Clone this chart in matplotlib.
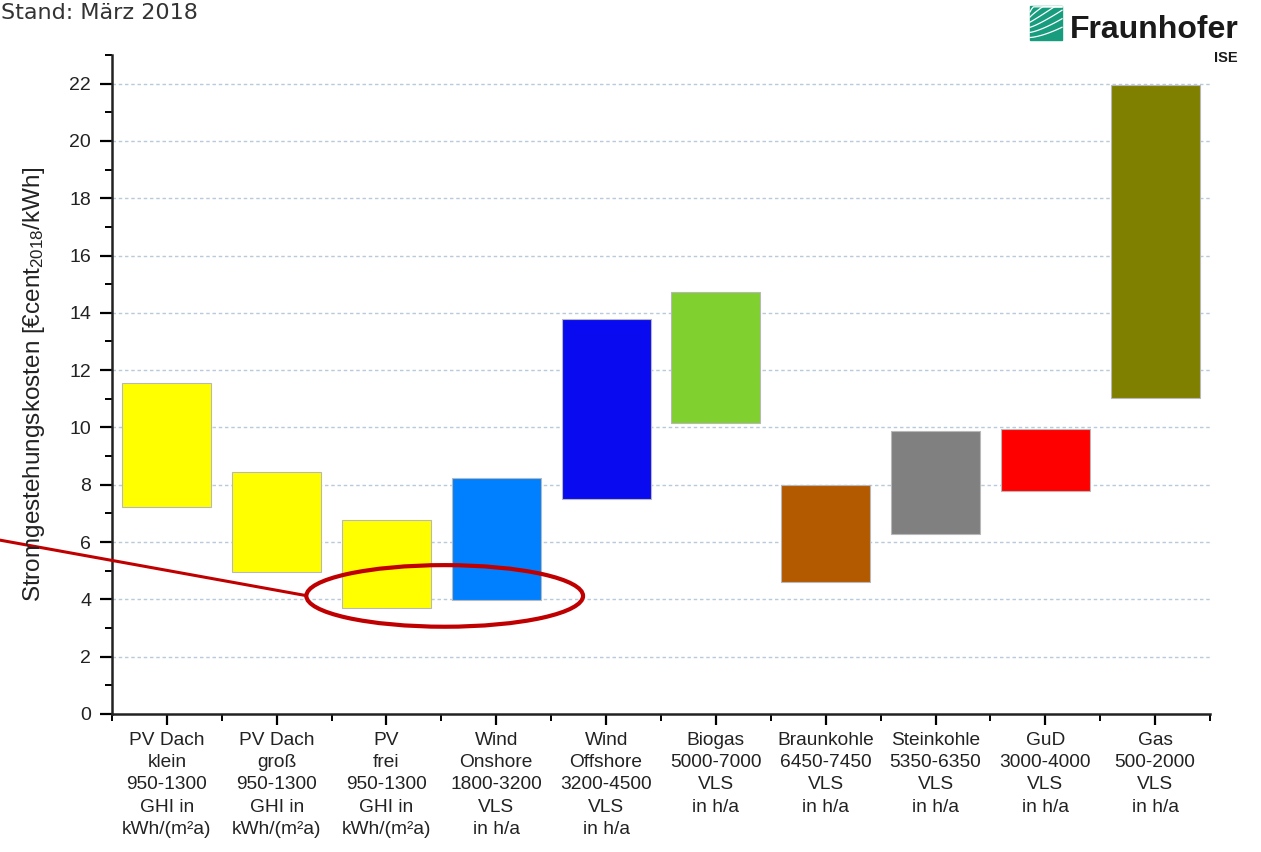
import numpy as np
import matplotlib
matplotlib.use("Agg")
from matplotlib import pyplot as plt
from matplotlib.patches import Ellipse, Rectangle
from matplotlib.ticker import MultipleLocator

plt.rcParams['font.family'] = ['Liberation Sans', 'DejaVu Sans']
plt.rcParams['mathtext.fontset'] = 'custom'
plt.rcParams['mathtext.rm'] = 'Liberation Sans'
plt.rcParams['mathtext.it'] = 'Liberation Sans:italic'

# data (ct/kWh)
labels = ["PV Dach\nklein\n950-1300\nGHI in\nkWh/(m²a)",
          "PV Dach\ngroß\n950-1300\nGHI in\nkWh/(m²a)",
          "PV\nfrei\n950-1300\nGHI in\nkWh/(m²a)",
          "Wind\nOnshore\n1800-3200\nVLS\nin h/a",
          "Wind\nOffshore\n3200-4500\nVLS\nin h/a",
          "Biogas\n5000-7000\nVLS\nin h/a",
          "Braunkohle\n6450-7450\nVLS\nin h/a",
          "Steinkohle\n5350-6350\nVLS\nin h/a",
          "GuD\n3000-4000\nVLS\nin h/a",
          "Gas\n500-2000\nVLS\nin h/a"]
low = [7.23, 4.95, 3.71, 3.99, 7.49, 10.14, 4.59, 6.27, 7.78, 11.03]
high = [11.54, 8.46, 6.77, 8.23, 13.79, 14.74, 7.98, 9.86, 9.96, 21.94]
colors = ["#FFFF00", "#FFFF00", "#FFFF00", "#0080FF", "#0A0AF0",
          "#80D030", "#B35900", "#808080", "#FF0000", "#808000"]

fig = plt.figure(figsize=(12.61, 8.52), dpi=100)
ax = fig.add_axes([0.0888, 0.162, 0.8708, 0.7735])

x = np.arange(1, len(low) + 1)
heights = np.array(high) - np.array(low)
ax.bar(x, heights, bottom=low, width=0.81, color=colors,
       edgecolor="#B8B8B8", linewidth=0.8, zorder=3)

ax.set_xlim(0.5, 10.5)
ax.set_ylim(0, 23)
ax.yaxis.set_major_locator(MultipleLocator(2))
ax.yaxis.set_minor_locator(MultipleLocator(1))
ax.set_xticks(x)
ax.set_xticklabels(labels, fontsize=13.8, linespacing=1.4, color="#222222")
ax.set_xticks(np.arange(0.5, 11, 1), minor=True)

for gy in range(2, 23, 2):
    ax.axhline(gy, color="#B9CADB", lw=1.0, ls=(0, (2.5, 2)), zorder=1)

for s in ["top", "right"]:
    ax.spines[s].set_visible(False)
for s in ["left", "bottom"]:
    ax.spines[s].set_linewidth(1.8)
    ax.spines[s].set_color("#222222")

ax.tick_params(axis="y", which="major", length=9, width=1.6, pad=6,
               labelsize=14, labelcolor="#222222")
ax.tick_params(axis="y", which="minor", length=5, width=1.4)
ax.tick_params(axis="x", which="major", length=8, width=1.6, pad=5)
ax.tick_params(axis="x", which="minor", length=5, width=1.4)

fig.text(0.027, 0.549, "Stromgestehungskosten [€cent$_{2018}$/kWh]",
         rotation=90, ha="center", va="center", fontsize=17.5, color="#222222")

# red highlight
ax.plot([-0.51, 2.27], [6.06, 4.13], color="#C00000", lw=2.2,
        clip_on=False, zorder=5)
ax.add_patch(Ellipse((3.53, 4.12), 2.52, 2.15, fill=False,
                     edgecolor="#C00000", lw=3, zorder=5, clip_on=False))

fig.text(0.001, 0.996, "Stand: März 2018", family="DejaVu Sans",
         fontsize=16, color="#333333", ha="left", va="top")

# Fraunhofer logo
fig.patches.append(Rectangle((0.8168, 0.953), 0.0254, 0.040,
                             transform=fig.transFigure, color="#179C7D"))
for k in range(6):
    t = np.linspace(0, 1, 20)
    lx = 0.8168 + 0.0254 * t
    ly = 0.956 + 0.006 * k + (0.012 + 0.004 * k) * t ** (1.5 - 0.15 * k)
    ly = np.minimum(ly, 0.992)
    fig.add_artist(plt.Line2D(lx, ly, transform=fig.transFigure,
                              color="white", lw=0.9))
fig.text(0.8485, 0.955, "Fraunhofer", fontsize=23, fontweight="bold",
         color="#1a1a1a", ha="left", va="baseline")
fig.text(0.9817, 0.932, "ISE", fontsize=10.5, fontweight="bold",
         color="#1a1a1a", ha="right", va="center")

fig.savefig("out.png", dpi=100)
